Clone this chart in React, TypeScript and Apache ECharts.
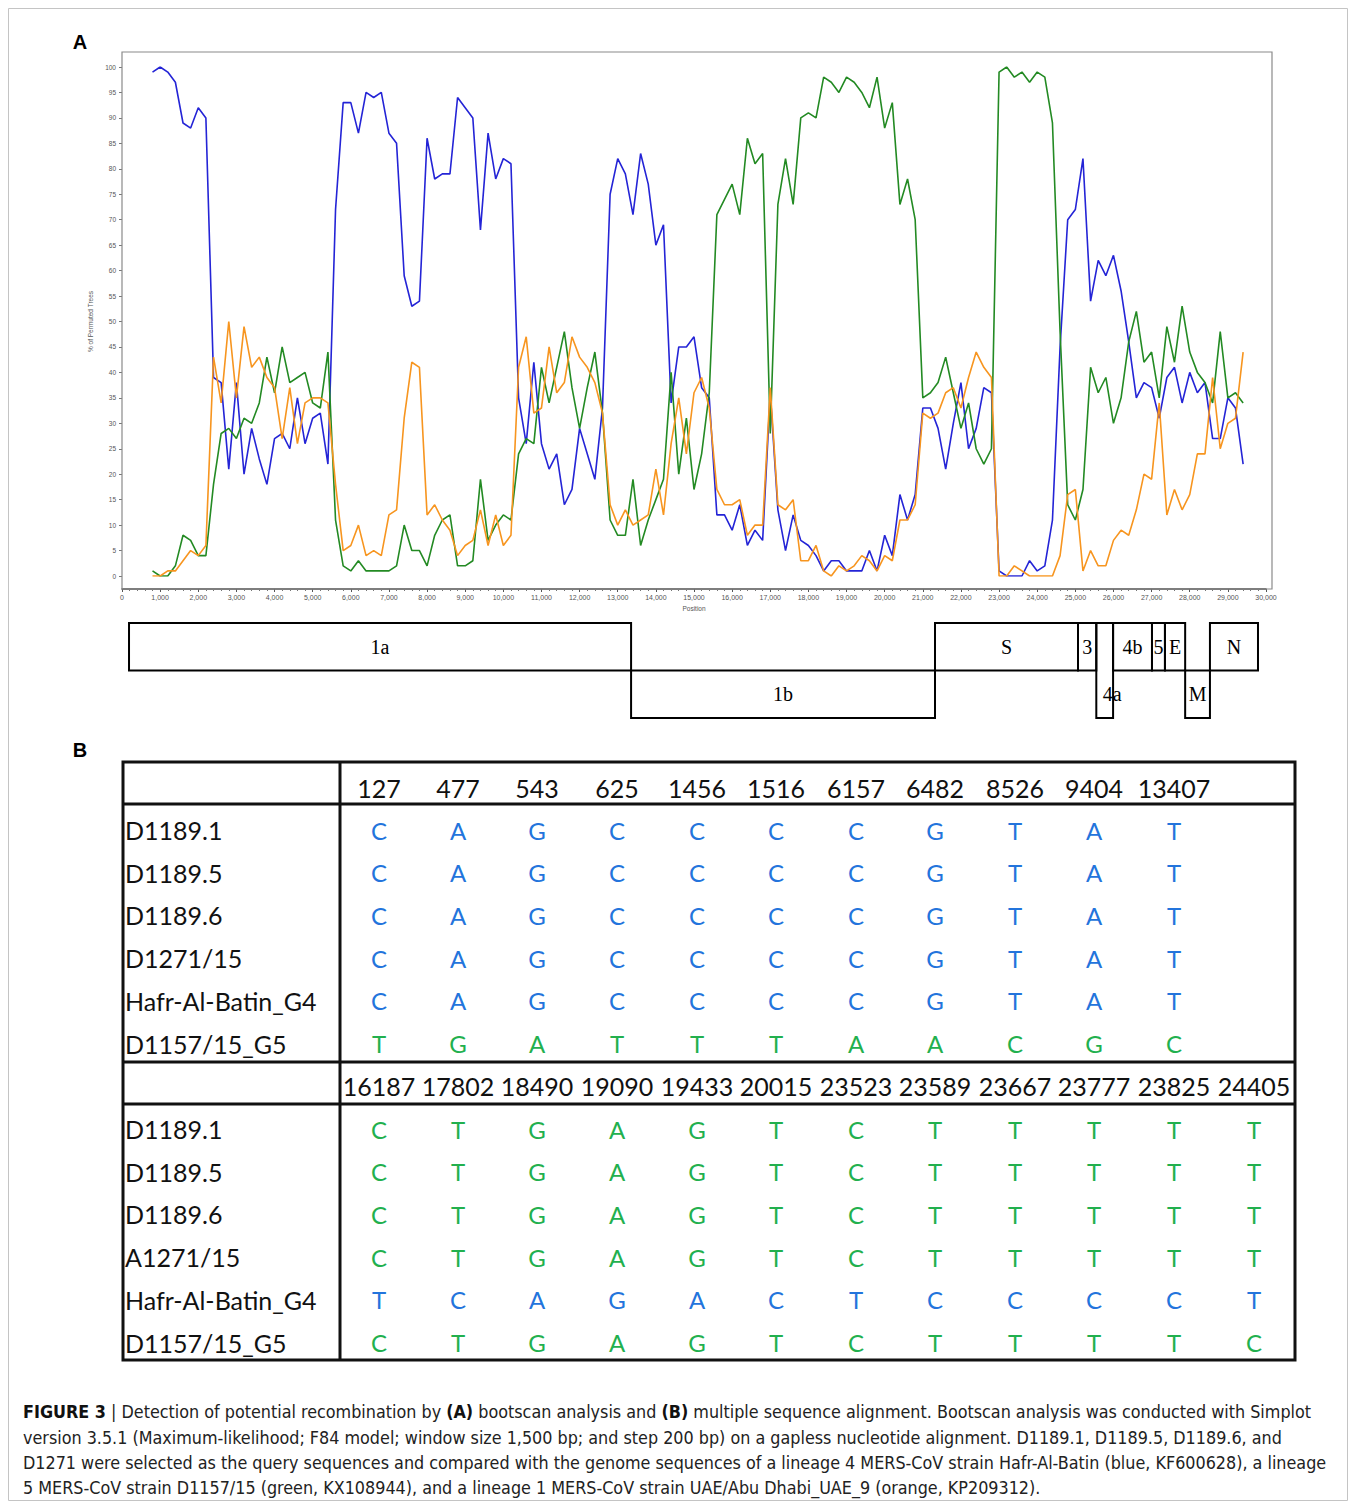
import React, { useEffect, useRef } from "react";
import * as echarts from "echarts";

// ---------------- DATA ----------------
// Bootscan windows: first window centre 800 bp, step 200 bp
const WINDOW_START = 800;
const WINDOW_STEP = 200;

// Hafr-Al-Batin (lineage 4) – blue
const hafrBlue = [
  99, 100, 99, 97, 89, 88, 92, 90, 39, 38,
  21, 38, 20, 29, 23, 18, 27, 28, 25, 35,
  26, 31, 32, 22, 72, 93, 93, 87, 95, 94,
  95, 87, 85, 59, 53, 54, 86, 78, 79, 79,
  94, 92, 90, 68, 87, 78, 82, 81, 35, 26,
  42, 26, 21, 24, 14, 17, 29, 24, 19, 33,
  75, 82, 79, 71, 83, 77, 65, 69, 34, 45,
  45, 47, 37, 35, 12, 12, 9, 14, 6, 9,
  7, 36, 13, 5, 12, 7, 6, 4, 1, 3,
  3, 1, 1, 1, 5, 1, 8, 4, 16, 11,
  16, 33, 33, 29, 21, 30, 38, 25, 29, 37,
  36, 1, 0, 0, 0, 3, 1, 2, 11, 45,
  70, 72, 82, 54, 62, 59, 63, 56, 46, 35,
  38, 37, 31, 39, 41, 34, 40, 36, 38, 27,
  27, 35, 33, 22,
];

// D1157/15 (lineage 5) – green
const d1157Green = [
  1, 0, 0, 2, 8, 7, 4, 4, 18, 28,
  29, 27, 31, 30, 34, 43, 36, 45, 38, 39,
  40, 34, 33, 44, 11, 2, 1, 3, 1, 1,
  1, 1, 2, 10, 5, 5, 2, 8, 11, 12,
  2, 2, 3, 19, 7, 10, 12, 11, 24, 27,
  26, 41, 34, 41, 48, 37, 29, 37, 44, 32,
  11, 8, 8, 19, 6, 11, 15, 19, 40, 20,
  31, 17, 24, 36, 71, 74, 77, 71, 86, 81,
  83, 28, 73, 82, 73, 90, 91, 90, 98, 97,
  95, 98, 97, 95, 92, 98, 88, 93, 73, 78,
  70, 35, 36, 38, 43, 36, 29, 34, 25, 22,
  25, 99, 100, 98, 99, 97, 99, 98, 89, 48,
  14, 11, 17, 41, 36, 39, 30, 35, 46, 52,
  42, 44, 35, 49, 42, 53, 44, 40, 38, 34,
  48, 35, 36, 34,
];

// UAE/Abu Dhabi_UAE_9 (lineage 1) – orange
const uaeOrange = [
  0, 0, 1, 1, 3, 5, 4, 6, 43, 34,
  50, 35, 49, 41, 43, 39, 37, 27, 37, 26,
  34, 35, 35, 34, 18, 5, 6, 10, 4, 5,
  4, 12, 13, 31, 42, 41, 12, 14, 11, 9,
  4, 6, 7, 13, 6, 12, 6, 8, 41, 47,
  32, 33, 45, 36, 38, 47, 43, 41, 38, 32,
  14, 10, 13, 10, 11, 12, 21, 12, 26, 35,
  24, 36, 39, 33, 17, 14, 14, 15, 8, 10,
  10, 37, 14, 13, 15, 3, 3, 6, 1, 0,
  2, 1, 2, 4, 3, 1, 4, 3, 11, 11,
  14, 32, 31, 32, 36, 37, 33, 39, 44, 41,
  39, 0, 0, 2, 1, 0, 0, 0, 0, 4,
  16, 17, 1, 5, 2, 2, 7, 9, 8, 13,
  20, 19, 34, 12, 17, 13, 16, 24, 24, 39,
  25, 30, 31, 44,
];

// Genome map (genome coordinates, bp); rows: 0 = upper, 1 = lower
const geneNames = ["1a", "1b", "S", "3", "4a", "4b", "5", "E", "M", "N"];
const geneStarts = [184, 13350, 21320, 25070, 25550, 25990, 27010, 27350, 27880, 28530];
const geneEnds = [13350, 21320, 25070, 25550, 25990, 27010, 27350, 27880, 28530, 29790];
const geneRowTop = [0, 1, 0, 0, 0, 0, 0, 0, 1, 0];
const geneRowBottom = [1, 2, 1, 1, 2, 1, 1, 1, 2, 1];
const geneLabelRow = [0.5, 1.5, 0.5, 0.5, 1.5, 0.5, 0.5, 0.5, 1.5, 0.5];
const geneLabelPos = [6767, 17335, 23195, 25310, 25964, 26500, 27180, 27615, 28205, 29160];

// Table (panel B)
const sites1 = ["127", "477", "543", "625", "1456", "1516", "6157", "6482", "8526", "9404", "13407"];
const strains1 = ["D1189.1", "D1189.5", "D1189.6", "D1271/15", "Hafr-Al-Batin_G4", "D1157/15_G5"];
const bases1 = ["CAGCCCCGTAT", "CAGCCCCGTAT", "CAGCCCCGTAT", "CAGCCCCGTAT", "CAGCCCCGTAT", "TGATTTAACGC"];
const baseColor1 = ["blue", "blue", "blue", "blue", "blue", "green"];

const sites2 = ["16187", "17802", "18490", "19090", "19433", "20015", "23523", "23589", "23667", "23777", "23825", "24405"];
const strains2 = ["D1189.1", "D1189.5", "D1189.6", "A1271/15", "Hafr-Al-Batin_G4", "D1157/15_G5"];
const bases2 = ["CTGAGTCTTTTT", "CTGAGTCTTTTT", "CTGAGTCTTTTT", "CTGAGTCTTTTT", "TCAGACTCCCCT", "CTGAGTCTTTTC"];
const baseColor2 = ["green", "green", "green", "green", "blue", "green"];

const captionLines = [
  "{b|FIGURE 3} | Detection of potential recombination by {b|(A)} bootscan analysis and {b|(B)} multiple sequence alignment. Bootscan analysis was conducted with Simplot",
  "version 3.5.1 (Maximum-likelihood; F84 model; window size 1,500 bp; and step 200 bp) on a gapless nucleotide alignment. D1189.1, D1189.5, D1189.6, and",
  "D1271 were selected as the query sequences and compared with the genome sequences of a lineage 4 MERS-CoV strain Hafr-Al-Batin (blue, KF600628), a lineage",
  "5 MERS-CoV strain D1157/15 (green, KX108944), and a lineage 1 MERS-CoV strain UAE/Abu Dhabi_UAE_9 (orange, KP209312).",
];

// ---------------- STYLE ----------------
const O = 8; // page offset (body margin)
const p = (v: number) => v - O;
const BLUE = "#2424d6";
const GREEN = "#238a23";
const ORANGE = "#f7951f";
const TBL_BLUE = "#2374dc";
const TBL_GREEN = "#22b04e";
const TABLE_FONT = "Lato, 'Open Sans', sans-serif";
const CAPTION_FONT = "'Liberation Sans Narrow', 'DejaVu Sans Condensed', sans-serif";
const AXIS_FONT = "'Liberation Sans', Arial, sans-serif";

const toPairs = (arr: number[]) => arr.map((v, i) => [WINDOW_START + i * WINDOW_STEP, v]);

function buildTableGraphics() {
  const els: any[] = [];
  const colX = [379, 458, 537, 617, 697, 776, 856, 935, 1015, 1094, 1174, 1254];
  const rowStep = 42.7;
  const tf = (size: number) => `${size}px ${TABLE_FONT}`;
  const lineStyle = { stroke: "#111", lineWidth: 3 };
  els.push({ type: "rect", shape: { x: p(123), y: p(762), width: 1172, height: 598 }, style: { fill: "none", ...lineStyle } });
  els.push({ type: "line", shape: { x1: p(340), y1: p(762), x2: p(340), y2: p(1360) }, style: lineStyle });
  [804, 1062, 1104].forEach((y) =>
    els.push({ type: "line", shape: { x1: p(123), y1: p(y), x2: p(1295), y2: p(y) }, style: lineStyle })
  );
  const block = (sites: string[], strains: string[], bases: string[], colors: string[], headY: number, firstRowY: number) => {
    sites.forEach((s, i) =>
      els.push({ type: "text", style: { text: s, x: p(colX[i]), y: p(headY), align: "center", verticalAlign: "middle", font: tf(25), fill: "#111" } })
    );
    strains.forEach((name, r) => {
      const y = p(firstRowY + r * rowStep);
      els.push({ type: "text", style: { text: name, x: p(125), y, align: "left", verticalAlign: "middle", font: tf(25), fill: "#111" } });
      bases[r].split("").forEach((b, c) =>
        els.push({
          type: "text",
          style: { text: b, x: p(colX[c]), y, align: "center", verticalAlign: "middle", font: tf(24), fill: colors[r] === "blue" ? TBL_BLUE : TBL_GREEN },
        })
      );
    });
  };
  block(sites1, strains1, bases1, baseColor1, 788, 830);
  block(sites2, strains2, bases2, baseColor2, 1086, 1129);
  return els;
}

function buildCaption() {
  const ys = [1411, 1437, 1462, 1487];
  return captionLines.map((t, i) => ({
    type: "text",
    style: {
      text: t,
      x: p(23),
      y: p(ys[i]),
      verticalAlign: "middle",
      fontSize: 17.8,
      fontFamily: CAPTION_FONT,
      fill: "#222",
      rich: { b: { fontWeight: "bold", fontSize: 17.8, fontFamily: CAPTION_FONT, fill: "#111" } },
    },
  }));
}

export default function App() {
  const ref = useRef<HTMLDivElement>(null);
  useEffect(() => {
    if (!ref.current) return;
    const chart = echarts.init(ref.current, undefined, { renderer: "svg" });
    const option: any = {
      animation: false,
      backgroundColor: "#fff",
      grid: [
        { left: p(122), top: p(67), width: 1144, height: 509 },
        { left: p(122), top: p(623), width: 1144, height: 95 },
      ],
      xAxis: [
        {
          type: "value",
          gridIndex: 0,
          min: 0,
          max: 30000,
          interval: 1000,
          offset: 13,
          name: "Position",
          nameLocation: "middle",
          nameGap: 16,
          nameTextStyle: { fontSize: 6.5, color: "#555", fontFamily: AXIS_FONT },
          axisLine: { show: true, onZero: false, lineStyle: { color: "#444", width: 1.5 } },
          axisTick: { show: true, length: 3, lineStyle: { color: "#555" } },
          minorTick: { show: true, splitNumber: 5, length: 2, lineStyle: { color: "#777" } },
          axisLabel: {
            fontSize: 7,
            color: "#555",
            margin: 5,
            fontFamily: AXIS_FONT,
            formatter: (v: number) => v.toLocaleString("en-US"),
          },
          splitLine: { show: false },
        },
        { type: "value", gridIndex: 1, min: 0, max: 30000, show: false },
      ],
      yAxis: [
        {
          type: "value",
          gridIndex: 0,
          min: 0,
          max: 100,
          interval: 5,
          name: "% of Permuted Trees",
          nameLocation: "middle",
          nameGap: 22,
          nameRotate: 90,
          nameTextStyle: { fontSize: 6.5, color: "#555", fontFamily: AXIS_FONT },
          axisLine: { show: false, onZero: false },
          axisTick: { show: true, length: 3, lineStyle: { color: "#777" } },
          axisLabel: { fontSize: 6.5, color: "#555", margin: 6, fontFamily: AXIS_FONT },
          splitLine: { show: false },
        },
        { type: "value", gridIndex: 1, min: 0, max: 2, inverse: true, show: false },
      ],
      series: [
        {
          name: "Hafr-Al-Batin",
          type: "line",
          xAxisIndex: 0,
          yAxisIndex: 0,
          data: toPairs(hafrBlue),
          showSymbol: false,
          symbol: "none",
          lineStyle: { color: BLUE, width: 1.6 },
          z: 3,
        },
        {
          name: "D1157/15",
          type: "line",
          xAxisIndex: 0,
          yAxisIndex: 0,
          data: toPairs(d1157Green),
          showSymbol: false,
          symbol: "none",
          lineStyle: { color: GREEN, width: 1.6 },
          z: 4,
        },
        {
          name: "UAE/Abu Dhabi_UAE_9",
          type: "line",
          xAxisIndex: 0,
          yAxisIndex: 0,
          data: toPairs(uaeOrange),
          showSymbol: false,
          symbol: "none",
          lineStyle: { color: ORANGE, width: 1.6 },
          z: 5,
        },
        {
          name: "Genome map",
          type: "custom",
          xAxisIndex: 1,
          yAxisIndex: 1,
          clip: false,
          data: geneNames.map((n, i) => ({
            name: n,
            value: [geneStarts[i], geneEnds[i], geneRowTop[i], geneRowBottom[i], geneLabelPos[i], geneLabelRow[i]],
          })),
          encode: { x: [0, 1], y: [2, 3] },
          renderItem: (params: any, api: any) => {
            const s = api.coord([api.value(0), api.value(2)]);
            const e = api.coord([api.value(1), api.value(3)]);
            const l = api.coord([api.value(4), api.value(5)]);
            return {
              type: "group",
              children: [
                {
                  type: "rect",
                  shape: { x: s[0], y: s[1], width: e[0] - s[0], height: e[1] - s[1] },
                  style: { fill: "rgba(0,0,0,0)", stroke: "#000", lineWidth: 2 },
                },
                {
                  type: "text",
                  style: {
                    text: geneNames[params.dataIndex],
                    x: l[0],
                    y: l[1],
                    align: "center",
                    verticalAlign: "middle",
                    font: "20px 'Liberation Serif', 'DejaVu Serif', serif",
                    fill: "#000",
                  },
                },
              ],
            };
          },
        },
      ],
      graphic: [
        { type: "rect", shape: { x: 0.5, y: 0.5, width: 1339, height: 1492 }, style: { fill: "none", stroke: "#c4c4c4", lineWidth: 1 }, z: 0 },
        { type: "rect", shape: { x: p(122), y: p(52), width: 1150, height: 537 }, style: { fill: "none", stroke: "#8a8a8a", lineWidth: 1.2 }, z: 1 },
        { type: "text", style: { text: "A", x: p(80), y: p(42), align: "center", verticalAlign: "middle", font: "bold 20px 'Liberation Sans', Arial, sans-serif", fill: "#000" } },
        { type: "text", style: { text: "B", x: p(80), y: p(750), align: "center", verticalAlign: "middle", font: "bold 20px 'Liberation Sans', Arial, sans-serif", fill: "#000" } },
        ...buildTableGraphics(),
        ...buildCaption(),
      ],
    };
    chart.setOption(option);
    return () => chart.dispose();
  }, []);
  return <div ref={ref} style={{ width: 1340, height: 1494 }} />;
}
